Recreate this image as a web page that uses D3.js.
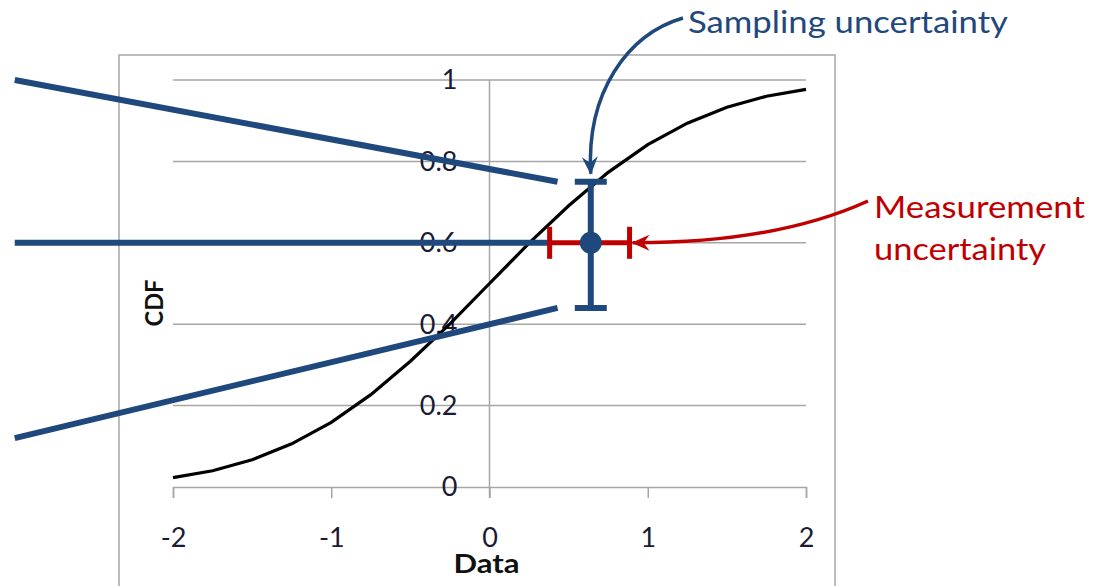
<!DOCTYPE html>
<html>
<head>
<meta charset="utf-8">
<script src="https://cdn.jsdelivr.net/npm/d3@7"></script>
<style>
  body { margin: 0; background: #fff; }
  svg { display: block; font-family: Lato, "Open Sans", sans-serif; }
</style>
</head>
<body>
<svg id="chart"></svg>
<script>
let xValues = [-2, -1.75, -1.5, -1.25, -1, -0.75, -0.5, -0.25, 0, 0.25, 0.5, 0.75, 1, 1.25, 1.5, 1.75, 2];
let cdfValues = [0.023, 0.040, 0.067, 0.106, 0.159, 0.227, 0.309, 0.401, 0.5, 0.599, 0.691, 0.773, 0.841, 0.894, 0.933, 0.960, 0.977];

let xTicks = [-2, -1, 0, 1, 2];
let xTickLabels = ["-2", "-1", "0", "1", "2"];
let yTicks = [0, 0.2, 0.4, 0.6, 0.8, 1];
let yTickLabels = ["0", "0.2", "0.4", "0.6", "0.8", "1"];

// the measured point and its two error bars
let pointX = 0.64;
let pointY = 0.6;
let samplingRange = [0.44, 0.75];
let measurementRange = [0.38, 0.885];

// the three blue guide lines running off to the left
let guideStartX = [-3, -3, -3];
let guideStartY = [1.0, 0.6, 0.12];
let guideEndX = [0.43, 0.38, 0.43];
let guideEndY = [0.75, 0.6, 0.44];

let width = 1101;
let height = 586;
let blue = "#1f497d";
let red = "#c00000";
let grid = "#a6a6a6";
let labelColor = "#1a1a33";

let svg = d3.select("#chart").attr("width", width).attr("height", height);

let xScale = d3.scaleLinear().domain([-2, 2]).range([173, 806]);
let yScale = d3.scaleLinear().domain([0, 1]).range([487, 80]);

// arrow heads
let defs = svg.append("defs");
[["headBlue", blue], ["headRed", red]].forEach(([id, col]) => {
    defs.append("marker")
        .attr("id", id)
        .attr("markerUnits", "userSpaceOnUse")
        .attr("viewBox", "-20 -10 22 20")
        .attr("refX", 0)
        .attr("refY", 0)
        .attr("markerWidth", 22)
        .attr("markerHeight", 20)
        .attr("orient", "auto")
        .append("path")
        .attr("d", "M1,0 L-17,-8 L-11,0 L-17,8 Z")
        .attr("fill", col);
});

// chart area border
svg.append("rect")
    .attr("x", 119)
    .attr("y", 55)
    .attr("width", 716)
    .attr("height", 560)
    .attr("fill", "none")
    .attr("stroke", grid)
    .attr("stroke-width", 1.5);

// horizontal gridlines
svg.append("g")
    .selectAll("line")
    .data(yTicks.slice(1))
    .enter()
    .append("line")
    .attr("x1", xScale(-2))
    .attr("x2", xScale(2))
    .attr("y1", d => yScale(d))
    .attr("y2", d => yScale(d))
    .attr("stroke", grid)
    .attr("stroke-width", 1.5);

// x axis
let xAxis = d3.axisBottom(xScale)
    .tickValues(xTicks)
    .tickSize(11)
    .tickSizeOuter(11)
    .tickFormat((d, i) => xTickLabels[i]);

let gx = svg.append("g")
    .attr("transform", "translate(0," + yScale(0) + ")")
    .call(xAxis);
gx.select(".domain").attr("stroke", grid).attr("stroke-width", 1.5);
gx.selectAll(".tick line").attr("stroke", grid).attr("stroke-width", 1.5);
gx.selectAll(".tick text")
    .attr("fill", labelColor)
    .style("font-size", "27px")
    .style("font-family", "Lato, sans-serif")
    .attr("dy", "0.35em")
    .attr("y", 51);

// y axis line sits on x = 0
svg.append("line")
    .attr("x1", xScale(0))
    .attr("x2", xScale(0))
    .attr("y1", yScale(1))
    .attr("y2", yScale(0) + 11)
    .attr("stroke", grid)
    .attr("stroke-width", 1.5);

// y tick labels, left of the axis
svg.append("g")
    .selectAll("text")
    .data(yTicks)
    .enter()
    .append("text")
    .attr("x", xScale(0) - 32)
    .attr("y", d => yScale(d))
    .attr("dy", "0.35em")
    .attr("text-anchor", "end")
    .attr("fill", labelColor)
    .style("font-size", "27px")
    .text((d, i) => yTickLabels[i]);

// axis titles
svg.append("text")
    .attr("x", xScale(0) - 3)
    .attr("y", 573)
    .attr("text-anchor", "middle")
    .attr("font-weight", "bold")
    .style("font-size", "26px")
    .attr("textLength", 66)
    .attr("lengthAdjust", "spacingAndGlyphs")
    .attr("fill", "#111")
    .text("Data");

svg.append("text")
    .attr("transform", "translate(163,303)rotate(-90)")
    .attr("text-anchor", "middle")
    .attr("font-weight", "bold")
    .style("font-size", "25px")
    .attr("textLength", 47)
    .attr("lengthAdjust", "spacingAndGlyphs")
    .attr("fill", "#111")
    .text("CDF");

// CDF curve
let line = d3.line()
    .x((d, i) => xScale(xValues[i]))
    .y(d => yScale(d));

svg.append("path")
    .datum(cdfValues)
    .attr("d", line)
    .attr("fill", "none")
    .attr("stroke", "#000")
    .attr("stroke-width", 3.2);

// blue guide lines
svg.append("g")
    .selectAll("line")
    .data(guideStartX)
    .enter()
    .append("line")
    .attr("x1", (d, i) => xScale(guideStartX[i]))
    .attr("y1", (d, i) => yScale(guideStartY[i]))
    .attr("x2", (d, i) => xScale(guideEndX[i]))
    .attr("y2", (d, i) => yScale(guideEndY[i]))
    .attr("stroke", blue)
    .attr("stroke-width", 6);

// measurement (horizontal, red) error bar
let cap = 16;
svg.append("line")
    .attr("x1", xScale(measurementRange[0]))
    .attr("x2", xScale(measurementRange[1]))
    .attr("y1", yScale(pointY))
    .attr("y2", yScale(pointY))
    .attr("stroke", red)
    .attr("stroke-width", 5);
measurementRange.forEach(v => {
    svg.append("line")
        .attr("x1", xScale(v))
        .attr("x2", xScale(v))
        .attr("y1", yScale(pointY) - cap)
        .attr("y2", yScale(pointY) + cap)
        .attr("stroke", red)
        .attr("stroke-width", 5);
});

// sampling (vertical, blue) error bar
svg.append("line")
    .attr("x1", xScale(pointX))
    .attr("x2", xScale(pointX))
    .attr("y1", yScale(samplingRange[0]))
    .attr("y2", yScale(samplingRange[1]))
    .attr("stroke", blue)
    .attr("stroke-width", 6);
samplingRange.forEach(v => {
    svg.append("line")
        .attr("x1", xScale(pointX) - cap)
        .attr("x2", xScale(pointX) + cap)
        .attr("y1", yScale(v))
        .attr("y2", yScale(v))
        .attr("stroke", blue)
        .attr("stroke-width", 6);
});

svg.append("circle")
    .attr("cx", xScale(pointX))
    .attr("cy", yScale(pointY))
    .attr("r", 11)
    .attr("fill", blue);

// callouts
let sTipX = xScale(pointX);
let sTipY = yScale(samplingRange[1]) - 8;
svg.append("path")
    .attr("d", "M683,18 C628,34 586,92 " + sTipX + "," + sTipY)
    .attr("fill", "none")
    .attr("stroke", blue)
    .attr("stroke-width", 3.5)
    .attr("marker-end", "url(#headBlue)");

svg.append("text")
    .attr("x", 688)
    .attr("y", 33)
    .attr("fill", blue)
    .style("font-size", "30px")
    .attr("textLength", 320)
    .attr("lengthAdjust", "spacingAndGlyphs")
    .text("Sampling uncertainty");

let mTipX = xScale(measurementRange[1]) + 3;
let mTipY = yScale(pointY);
svg.append("path")
    .attr("d", "M868,201 C800,232 720,243 " + mTipX + "," + mTipY)
    .attr("fill", "none")
    .attr("stroke", red)
    .attr("stroke-width", 3.5)
    .attr("marker-end", "url(#headRed)");

svg.append("text")
    .attr("x", 874)
    .attr("y", 218)
    .attr("fill", red)
    .style("font-size", "30px")
    .attr("textLength", 211)
    .attr("lengthAdjust", "spacingAndGlyphs")
    .text("Measurement");

svg.append("text")
    .attr("x", 874)
    .attr("y", 260)
    .attr("fill", red)
    .style("font-size", "30px")
    .attr("textLength", 172)
    .attr("lengthAdjust", "spacingAndGlyphs")
    .text("uncertainty");
</script>
</body>
</html>
